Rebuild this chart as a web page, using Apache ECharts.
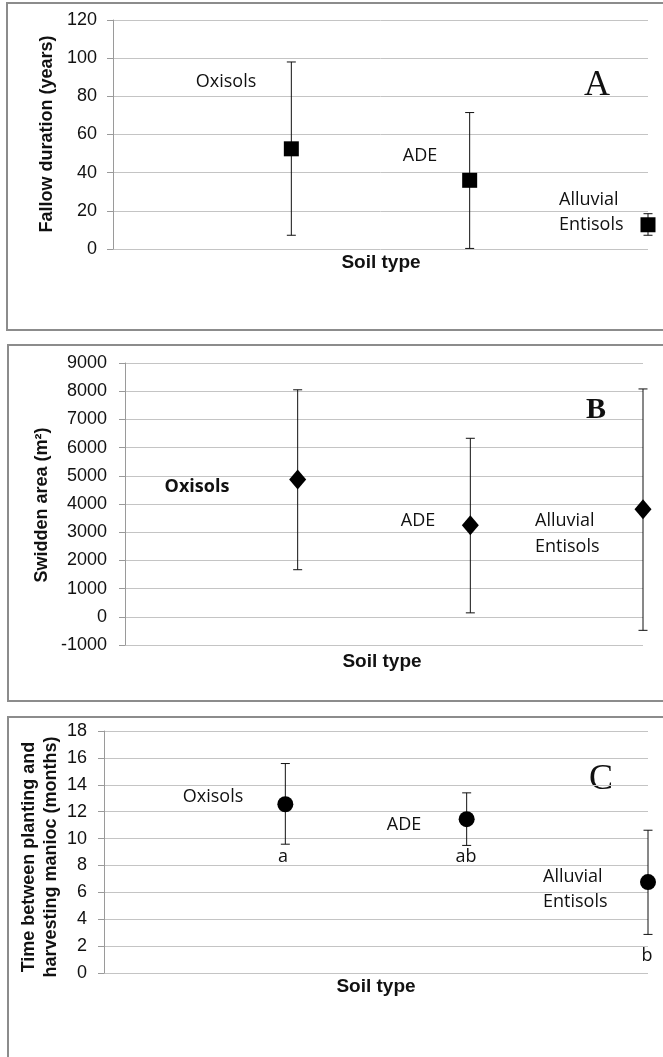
<!DOCTYPE html>
<html>
<head>
<meta charset="utf-8">
<script src="https://cdn.jsdelivr.net/npm/echarts@6/dist/echarts.min.js"></script>
<style>
html,body{margin:0;padding:0;background:#fff;}
#chart{width:663px;height:1057px;}
</style>
</head>
<body>
<div id="chart"></div>
<script>
// ---- data ----
const soilTypes = ['Oxisols', 'ADE', 'Alluvial Entisols'];
const soilX = [1, 2, 3];

const fallowMean = [52.5, 36, 12.7];
const fallowLow = [7.2, 0.3, 7.2];
const fallowHigh = [98, 71.5, 18.5];

const areaMean = [4870, 3250, 3810];
const areaLow = [1670, 140, -480];
const areaHigh = [8050, 6330, 8080];

const timeMean = [12.55, 11.44, 6.76];
const timeLow = [9.58, 9.49, 2.87];
const timeHigh = [15.58, 13.4, 10.62];

const sigLetters = ['a', 'ab', 'b'];

// ---- chart ----
const chart = echarts.init(document.getElementById('chart'), null, {renderer: 'canvas'});

const tickFont = {fontFamily: 'Liberation Sans, Arial, sans-serif', fontSize: 18, color: '#111'};
const gridColor = '#c4c4c4';
const axisColor = '#9a9a9a';

function yAxisCfg(idx, min, max, interval, margin) {
  return {
    type: 'value', gridIndex: idx, min: min, max: max, interval: interval,
    axisLine: {show: true, lineStyle: {color: axisColor, width: 1}},
    axisTick: {show: true, length: 6, lineStyle: {color: axisColor}},
    axisLabel: Object.assign({margin: margin, formatter: v => String(v)}, tickFont),
    splitLine: {show: true, lineStyle: {color: gridColor, width: 1}}
  };
}
function xAxisCfg(idx) {
  return {type: 'value', gridIndex: idx, min: 0, max: 3, show: false};
}

function errRender(capW) {
  return function (params, api) {
    const x = api.value(0);
    const top = api.coord([x, api.value(2)]);
    const bot = api.coord([x, api.value(1)]);
    const st = {stroke: '#111', lineWidth: 1};
    return {
      type: 'group',
      children: [
        {type: 'line', shape: {x1: top[0], y1: top[1], x2: bot[0], y2: bot[1]}, style: st},
        {type: 'line', shape: {x1: top[0] - capW / 2, y1: top[1], x2: top[0] + capW / 2, y2: top[1]}, style: st},
        {type: 'line', shape: {x1: bot[0] - capW / 2, y1: bot[1], x2: bot[0] + capW / 2, y2: bot[1]}, style: st}
      ]
    };
  };
}

function errData(low, high) { return soilX.map((x, i) => [x, low[i], high[i]]); }
function ptData(mean) { return soilX.map((x, i) => [x, mean[i], soilTypes[i]]); }

const labFont = '"Open Sans", Lato, sans-serif';
function txt(text, x, y, opts) {
  return {
    type: 'text', x: x, y: y, silent: true,
    style: Object.assign({text: text, fontFamily: labFont, fontSize: 18, fill: '#111', align: 'center', verticalAlign: 'middle'}, opts || {})
  };
}
function vtxt(text, x, y, size) {
  return {
    type: 'text', x: x, y: y, rotation: Math.PI / 2, silent: true,
    style: {text: text, fontFamily: 'Liberation Sans, Arial, sans-serif', fontWeight: 'bold', fontSize: size, fill: '#111', align: 'center', verticalAlign: 'middle'}
  };
}
const boldFont = {fontFamily: 'Liberation Sans, Arial, sans-serif', fontWeight: 'bold', fontSize: 19};
const serif = {fontFamily: 'Liberation Serif, "Times New Roman", serif', fontSize: 36};
const markStyle = {color: '#000', opacity: 1};

const option = {
  animation: false,
  backgroundColor: '#fff',
  grid: [
    {left: 113, right: 15, top: 20, height: 229},
    {left: 125, right: 20, top: 363, height: 282},
    {left: 104, right: 15, top: 731, height: 242}
  ],
  xAxis: [xAxisCfg(0), xAxisCfg(1), xAxisCfg(2)],
  yAxis: [
    yAxisCfg(0, 0, 120, 20, 16),
    yAxisCfg(1, -1000, 9000, 1000, 18),
    yAxisCfg(2, 0, 18, 2, 17)
  ],
  series: [
    {type: 'custom', xAxisIndex: 0, yAxisIndex: 0, renderItem: errRender(9), data: errData(fallowLow, fallowHigh), z: 2},
    {type: 'scatter', xAxisIndex: 0, yAxisIndex: 0, symbol: 'rect', symbolSize: 15, clip: false,
      itemStyle: markStyle, data: ptData(fallowMean), z: 3},
    {type: 'custom', xAxisIndex: 1, yAxisIndex: 1, renderItem: errRender(9), data: errData(areaLow, areaHigh), z: 2},
    {type: 'scatter', xAxisIndex: 1, yAxisIndex: 1, symbol: 'diamond', symbolSize: [17, 20], clip: false,
      itemStyle: markStyle, data: ptData(areaMean), z: 3},
    {type: 'custom', xAxisIndex: 2, yAxisIndex: 2, renderItem: errRender(9), data: errData(timeLow, timeHigh), z: 2},
    {type: 'scatter', xAxisIndex: 2, yAxisIndex: 2, symbol: 'circle', symbolSize: 16, clip: false,
      itemStyle: markStyle, data: ptData(timeMean), z: 3}
  ],
  graphic: [
    // panel frames
    {type: 'rect', shape: {x: 7, y: 3, width: 700, height: 327}, style: {fill: 'none', stroke: '#8c8c8c', lineWidth: 2}, silent: true},
    {type: 'rect', shape: {x: 8, y: 345, width: 700, height: 356}, style: {fill: 'none', stroke: '#8c8c8c', lineWidth: 2}, silent: true},
    {type: 'rect', shape: {x: 8, y: 717, width: 700, height: 400}, style: {fill: 'none', stroke: '#8c8c8c', lineWidth: 2}, silent: true},

    // Panel A
    vtxt('Fallow duration (years)', 47, 134, 18),
    txt('Soil type', 381, 263, boldFont),
    txt('Oxisols', 226, 82),
    txt('ADE', 420, 156),
    txt('Alluvial', 559, 200, {align: 'left'}),
    txt('Entisols', 559, 225, {align: 'left'}),
    txt('A', 597, 86, serif),

    // Panel B
    vtxt('Swidden area (m²)', 42, 505, 18),
    txt('Soil type', 382, 662, boldFont),
    txt('Oxisols', 197, 487, {fontWeight: 'bold'}),
    txt('ADE', 418, 521),
    txt('Alluvial', 535, 521, {align: 'left'}),
    txt('Entisols', 535, 547, {align: 'left'}),
    txt('B', 596, 410, Object.assign({}, serif, {fontWeight: 'bold', fontSize: 30})),

    // Panel C
    vtxt('Time between planting and', 29, 857, 18),
    vtxt('harvesting manioc (months)', 51, 857, 18),
    txt('Soil type', 376, 987, boldFont),
    txt('Oxisols', 213, 797),
    txt('ADE', 404, 825),
    txt('Alluvial', 543, 877, {align: 'left'}),
    txt('Entisols', 543, 902, {align: 'left'}),
    txt(sigLetters[0], 283, 857),
    txt(sigLetters[1], 466, 857),
    txt(sigLetters[2], 647, 956),
    txt('C', 601, 780, serif)
  ]
};

chart.setOption(option);
</script>
</body>
</html>
